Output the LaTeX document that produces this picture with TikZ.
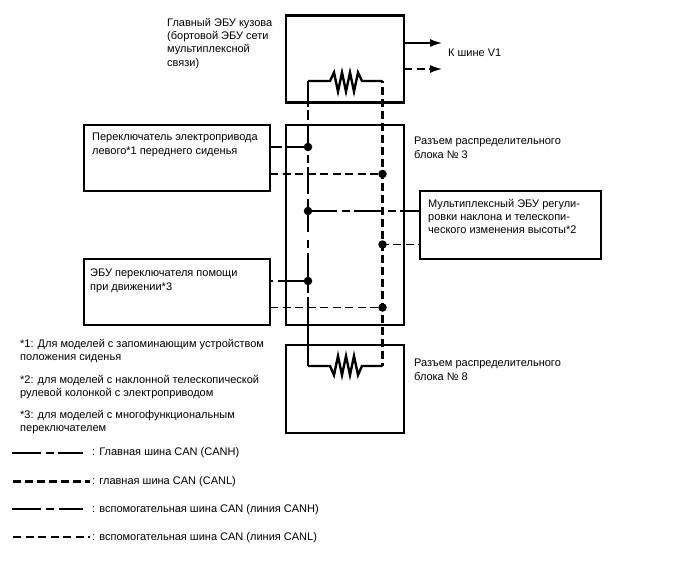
\documentclass[tikz,border=0pt]{standalone}
\usepackage{fontspec}
\setmainfont{Liberation Sans}
\usetikzlibrary{arrows.meta}
\tikzset{
  x=1pt,y=-1pt,
  unitbox/.style={draw=black,line width=2.2pt,rectangle,inner sep=0pt,outer sep=0pt,anchor=north west},
  lbl/.style={anchor=north west,inner sep=0pt,align=left,font=\fontsize{11}{13.3}\selectfont},
  mainh/.style={line width=2.7pt,dash pattern=on 26pt off 3pt on 10pt off 5pt on 26pt off 4pt on 8pt off 4pt on 27pt off 5pt on 8pt off 2pt on 23pt off 8pt on 8pt off 5pt on 40pt off 4pt on 69pt off 0pt},
  mainl/.style={line width=2.7pt,dash pattern=on 8pt off 4pt},
  subh/.style={line width=1.4pt,dash pattern=on 29pt off 5pt on 8pt off 4pt},
  subl/.style={line width=1.4pt,dash pattern=on 8pt off 4.5pt},
  junction/.style={circle,fill=black,inner sep=0pt,minimum size=8.5pt},
  res/.style={line width=2.4pt,line join=miter},
  busarrow/.style={line width=1.4pt,-{Latex[length=12pt,width=8pt]}},
}
\begin{document}
\begin{tikzpicture}
\useasboundingbox (0,0) rectangle (688,560);

% Unit and connector blocks
\node[unitbox,minimum width=118pt,minimum height=87pt] (body) at (286,15.5) {};
\node[unitbox,minimum width=118pt,minimum height=200pt] (jb3) at (286,125) {};
\node[unitbox,minimum width=118pt,minimum height=88pt] (jb8) at (286,345) {};
\node[unitbox,minimum width=186pt,minimum height=66pt] (seat) at (84,125) {};
\node[unitbox,minimum width=186pt,minimum height=66pt] (assist) at (84,259) {};
\node[unitbox,minimum width=181pt,minimum height=68pt] (tilt) at (420,191) {};

% Bus end points and junctions
\coordinate (hTop) at (308,81);
\coordinate (lTop) at (382.5,81);
\coordinate (hBot) at (308,366);
\coordinate (lBot) at (382.5,366);
\node[junction] (j1) at (308,147) {};
\node[junction] (j2) at (382.5,174) {};
\node[junction] (j3) at (308,211) {};
\node[junction] (j4) at (382.5,244.5) {};
\node[junction] (j5) at (308,281) {};
\node[junction] (j6) at (382.5,307.5) {};
\coordinate (toV1h) at (442,43);
\coordinate (toV1l) at (442,69);
\coordinate (bodyH) at (404,43);
\coordinate (bodyL) at (404,69);

% Terminating resistors
\draw[res] (hTop) -- (330,81) -- (334,72.5) -- (338,91.5) -- (342,72.5) -- (346,91.5) -- (350,72.5) -- (354,91.5) -- (358,72.5) -- (362,81) -- (lTop);
\draw[res] (hBot) -- (330,366) -- (334,375) -- (338,356) -- (342,375) -- (346,356) -- (350,375) -- (354,356) -- (358,375) -- (362,366) -- (lBot);

% Main bus
\draw[mainh] (hTop) -- (hBot);
\draw[mainl,dash phase=6pt] (lTop) -- (lBot);

% Branches
\draw[line width=1.4pt,dash pattern=on 12pt off 4pt on 40pt off 0pt] (seat.east |- j1) -- (j1.center);
\draw[subl] (seat.east |- j2) -- (j2.center);
\draw[subh] (j3.center) -- (tilt.west |- j3);
\draw[subl,dash phase=2pt] (j4.center) -- (tilt.west |- j4);
\draw[line width=1.4pt,dash pattern=on 3pt off 5pt on 40pt off 0pt] (assist.east |- j5) -- (j5.center);
\draw[subl] (assist.east |- j6) -- (j6.center);

% Outgoing lines
\draw[busarrow] (bodyH) -- (toV1h);
\draw[busarrow,dash pattern=on 8pt off 4.5pt] (bodyL) -- (toV1l);

% Labels
\node[lbl] (tBody) at (167,18) {Главный ЭБУ кузова\\(бортовой ЭБУ сети\\мультиплексной\\связи)};
\node[lbl] (tV1) at (448,49) {К шине V1};
\node[lbl] (tJb3) at (414,137) {Разъем распределительного\\блока № 3};
\node[lbl] (tJb8) at (414,359) {Разъем распределительного\\блока № 8};
\node[lbl] (tSeat) at (92,133) {Переключатель электропривода\\левого*1 переднего сиденья};
\node[lbl] (tTilt) at (428,199) {Мультиплексный ЭБУ регули-\\ровки наклона и телескопи-\\ческого изменения высоты*2};
\node[lbl] (tAssist) at (90,269) {ЭБУ переключателя помощи\\при движении*3};
\node[lbl] (n1) at (20,339) {*1: Для моделей с запоминающим устройством\\положения сиденья};
\node[lbl] (n2) at (20,375) {*2: для моделей с наклонной телескопической\\рулевой колонкой с электроприводом};
\node[lbl] (n3) at (20,410) {*3: для моделей с многофункциональным\\переключателем};

% Legend
\coordinate (a0) at (12,453);   \coordinate (a1) at (83,453);
\coordinate (b0) at (13,481.5); \coordinate (b1) at (90,481.5);
\coordinate (c0) at (12,509);   \coordinate (c1) at (83,509);
\coordinate (d0) at (13,537);   \coordinate (d1) at (90,537);
\draw[line width=2.7pt,dash pattern=on 29pt off 5pt on 8pt off 4pt] (a0) -- (a1);
\draw[mainl] (b0) -- (b1);
\draw[line width=1.4pt,dash pattern=on 29pt off 5pt on 8pt off 5pt] (c0) -- (c1);
\draw[subl] (d0) -- (d1);
\node[lbl,anchor=west] (la) at (92,453) {: Главная шина CAN (CANH)};
\node[lbl,anchor=west] (lb) at (92,481.5) {: главная шина CAN (CANL)};
\node[lbl,anchor=west] (lc) at (92,509.5) {: вспомогательная шина CAN (линия CANH)};
\node[lbl,anchor=west] (ld) at (92,537.5) {: вспомогательная шина CAN (линия CANL)};
\end{tikzpicture}
\end{document}
